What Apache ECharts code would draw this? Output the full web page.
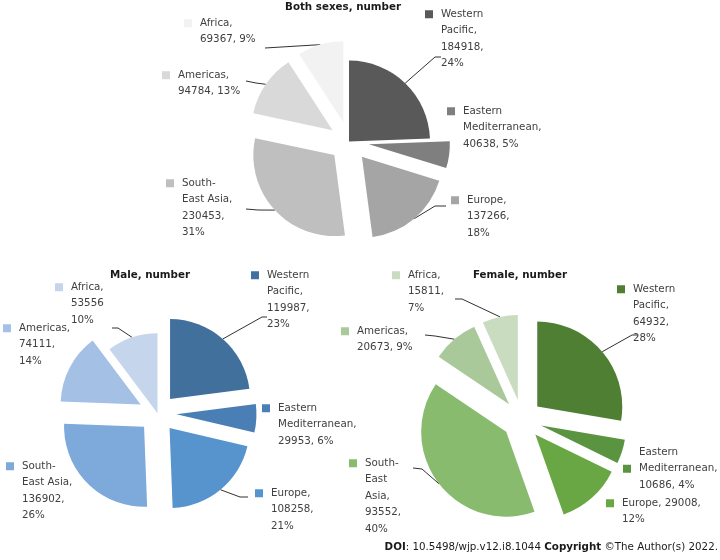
<!DOCTYPE html>
<html><head><meta charset="utf-8">
<script src="https://cdn.jsdelivr.net/npm/echarts@6/dist/echarts.min.js"></script>
<style>html,body{margin:0;padding:0;background:#fff}#c{width:720px;height:560px}</style>
</head><body><div id="c"></div>
<script>
// ---- data ----
const regions = ['Western Pacific','Eastern Mediterranean','Europe','South-East Asia','Americas','Africa'];
const bothValues = [184918, 40638, 137266, 230453, 94784, 69367];
const bothPct = [24, 5, 18, 31, 13, 9];
const maleValues = [119987, 29953, 108258, 136902, 74111, 53556];
const malePct = [23, 6, 21, 26, 14, 10];
const femaleValues = [64932, 10686, 29008, 93552, 20673, 15811];
const femalePct = [28, 4, 12, 40, 9, 7];
const chartTitles = ['Both sexes, number', 'Male, number', 'Female, number'];
const doiText = '{b|DOI}: 10.5498/wjp.v12.i8.1044 {b|Copyright} \u00A9The Author(s) 2022.';

// ---- styles / layout ----
const FONT = 'DejaVu Sans';
const FS = 10.3, LH = 16.5;
const bothColors = ['#595959', '#7f7f7f', '#a5a5a5', '#bfbfbf', '#d9d9d9', '#f2f2f2'];
const maleColors = ['#41709c', '#4a7fb6', '#5793cc', '#7ea9db', '#a4c0e5', '#c4d5ec'];
const femaleColors = ['#4f7f33', '#5a9440', '#69a745', '#89bb6f', '#aac99b', '#c9dcbf'];

// label templates: {n} name, {v} value, {p} percent
const bothFmt = ['{n},\n{v},\n{p}%', '{n},\n{v}, {p}%', '{n},\n{v},\n{p}%', '{n},\n{v},\n{p}%', '{n},\n{v}, {p}%', '{n},\n{v}, {p}%'];
const maleFmt = ['{n},\n{v},\n{p}%', '{n},\n{v}, {p}%', '{n},\n{v},\n{p}%', '{n},\n{v},\n{p}%', '{n},\n{v},\n{p}%', '{n},\n{v}\n{p}%'];
const femaleFmt = ['{n},\n{v},\n{p}%', '{n},\n{v}, {p}%', '{n}, {v},\n{p}%', '{n},\n{v},\n{p}%', '{n},\n{v}, {p}%', '{n},\n{v},\n{p}%'];
const femaleFullWrap = [false, false, false, true, false, false];
// label block top-left (legend square left edge)
const bothPos = [[425, 6], [447, 103], [451, 192], [166, 175], [162, 67], [184, 15]];
const malePos = [[251, 267], [262, 400], [255, 485], [6, 458], [3, 320], [55, 279]];
const femalePos = [[617, 281], [623, 444], [606, 495], [349, 455], [341, 323], [392, 267]];
const femaleSqLine = [0, 1, 0, 0, 0, 0];
// leader-line bends/ends in page coordinates (null = no leader line)
const bothLeader = [[[435, 57], [441, 57]], null, [[435, 206], [446, 206]], [[258, 210], [246, 209]], [[256, 83], [246, 81]], [[265, 48]]];
const maleLeader = [[[262, 317], [267, 317]], null, [[240, 497], [248, 497]], null, null, [[118, 328], [112, 328]]];
const femaleLeader = [[[632, 335], [638, 335]], null, null, [[422, 469], [413, 468]], [[435, 336], [425, 335]], [[462, 299], [455, 299]]];
// which slices are pulled out
const bothSelected = [false, true, true, true, true, true];
const maleSelected = [true, true, true, true, true, false];
const femaleSelected = [true, true, true, true, true, true];

function wrapName(name, full) {
  if (full) return name.replace('-', '-\n').replace(/ /g, '\n');
  if (name.indexOf('-') >= 0) return name.replace('-', '-\n');
  return name.replace(/ /g, '\n');
}

function labelGraphics(values, pct, colors, fmt, pos, fullWrap, sqLine) {
  const rich = {
    g: { width: 8, height: 8, lineHeight: LH },
    sp: { width: 16, height: 8, lineHeight: LH },
    t: { fontFamily: FONT, fontSize: FS, lineHeight: LH, fill: '#404040' }
  };
  colors.forEach((c, i) => { rich['sq' + i] = { width: 8, height: 8, backgroundColor: c, lineHeight: LH }; });
  return values.map((v, i) => {
    const txt = fmt[i].replace('{n}', wrapName(regions[i], fullWrap && fullWrap[i]))
      .replace('{v}', String(v)).replace('{p}', String(pct[i]));
    const sl = sqLine ? sqLine[i] : 0;
    const rt = txt.split('\n').map((ln, k) => (k === sl ? '{sq' + i + '|}{g|}' : '{sp|}') + '{t|' + ln + '}').join('\n');
    return {
      type: 'text', x: pos[i][0], y: pos[i][1], z: 10,
      style: { text: rt, rich: rich, align: 'left', verticalAlign: 'top', font: FS + 'px "' + FONT + '"', lineHeight: LH, fill: '#404040' }
    };
  });
}

// offset vector of an exploded slice (pie starts at 12 o'clock, clockwise)
function sliceShift(values, i, off, sel) {
  if (sel && !sel[i]) return [0, 0];
  const total = values.reduce((a, b) => a + b, 0);
  let cum = 0;
  for (let k = 0; k < i; k++) cum += values[k];
  const th = 2 * Math.PI * (cum + values[i] / 2) / total;
  return [off * Math.sin(th), -off * Math.cos(th)];
}

function makeSeries(values, colors, center, radius, offset, leader, selected) {
  return {
    type: 'pie',
    center: center,
    radius: radius,
    startAngle: 90,
    clockwise: true,
    selectedMode: 'multiple',
    selectedOffset: offset,
    avoidLabelOverlap: false,
    animation: false,
    emphasis: { disabled: true },
    itemStyle: { borderWidth: 0 },
    data: values.map((v, i) => ({
      name: regions[i], value: v,
      selected: selected[i],
      itemStyle: { color: colors[i] },
      labelLine: { show: !!leader[i] }
    })),
    label: { show: true, position: 'outside', formatter: '.', color: 'rgba(0,0,0,0)', fontSize: 6 },
    labelLine: { show: true, length: 8, length2: 8, smooth: false, lineStyle: { color: '#1a1a1a', width: 0.9 } },
    labelLayout: function (params) {
      const i = params.dataIndex;
      const L = leader[i];
      if (!L || !params.labelLinePoints) return {};
      const p0 = params.labelLinePoints[0];
      const s = sliceShift(values, i, offset, selected);
      return { labelLinePoints: [[p0[0], p0[1]]].concat(L.map(p => [p[0] - s[0], p[1] - s[1]])) };
    }
  };
}

const titleFont = 'bold 10.3px "DejaVu Sans"';
const chart = echarts.init(document.getElementById('c'), null, { renderer: 'canvas' });
chart.setOption({
  animation: false,
  backgroundColor: '#ffffff',
  graphic: [
    { type: 'text', x: 343, y: 7, style: { text: chartTitles[0], font: titleFont, fill: '#1a1a1a', align: 'center', verticalAlign: 'middle' } },
    { type: 'text', x: 150, y: 275, style: { text: chartTitles[1], font: titleFont, fill: '#1a1a1a', align: 'center', verticalAlign: 'middle' } },
    { type: 'text', x: 520, y: 275, style: { text: chartTitles[2], font: titleFont, fill: '#1a1a1a', align: 'center', verticalAlign: 'middle' } },
    { type: 'text', x: 718, y: 547, style: { text: doiText, font: '10.3px "DejaVu Sans"', fill: '#1a1a1a', align: 'right', verticalAlign: 'middle',
      rich: { b: { fontWeight: 'bold', fontFamily: FONT, fontSize: 10.3, fill: '#1a1a1a' } } } }
  ].concat(
    labelGraphics(bothValues, bothPct, bothColors, bothFmt, bothPos, null, null),
    labelGraphics(maleValues, malePct, maleColors, maleFmt, malePos, null, null),
    labelGraphics(femaleValues, femalePct, femaleColors, femaleFmt, femalePos, femaleFullWrap, femaleSqLine)
  ),
  series: [
    makeSeries(bothValues, bothColors, [349, 141.5], 81, 20, bothLeader, bothSelected),
    makeSeries(maleValues, maleColors, [157.5, 413.3], 80, 19, maleLeader, maleSelected),
    makeSeries(femaleValues, femaleColors, [522, 419.5], 85, 20, femaleLeader, femaleSelected)
  ]
});
</script></body></html>
